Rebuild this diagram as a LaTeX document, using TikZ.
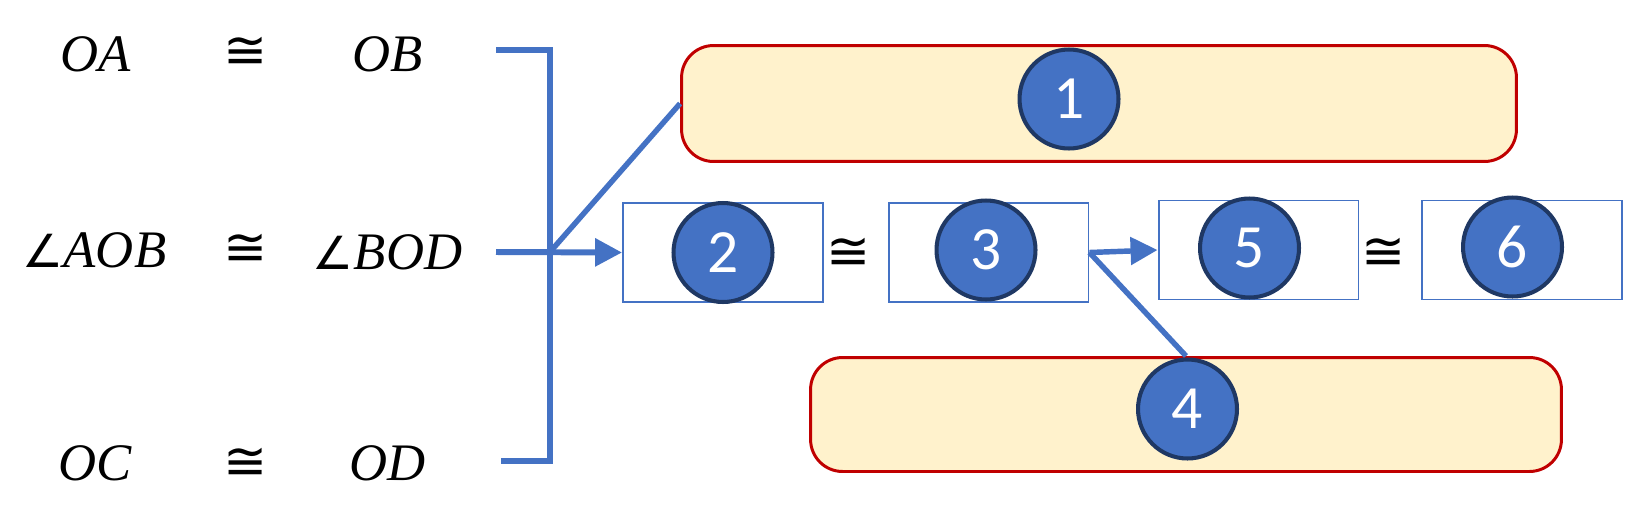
\documentclass[tikz,border=0pt]{standalone}
\usepackage{fontspec}
\setmainfont{Liberation Serif}
\newfontfamily\numfont{Carlito}
\newfontfamily\symfont{DejaVu Sans}
\usetikzlibrary{arrows.meta}
\definecolor{lineblue}{HTML}{4472C4}
\definecolor{badgeedge}{HTML}{1F3864}
\definecolor{claimred}{HTML}{C00000}
\definecolor{claimfill}{HTML}{FFF2CC}

\begin{document}
\begin{tikzpicture}[
 x=0.02cm,y=-0.02cm,
 term/.style={anchor=base,inner sep=0pt,font=\fontsize{30}{35}\selectfont\itshape},
 rel/.style={anchor=base,inner sep=0pt,font=\symfont\fontsize{30}{35}\selectfont},
 part/.style={draw=lineblue,line width=1.1pt,minimum width=4cm,minimum height=1.98cm,inner sep=0pt},
 claim/.style={draw=claimred,fill=claimfill,line width=1.7pt,rounded corners=0.64cm,inner sep=0pt},
 badge/.style={circle,draw=badgeedge,fill=lineblue,line width=2.3pt,minimum size=1.98cm,inner sep=0pt,text=white,font=\numfont\fontsize{35}{42}\selectfont},
 link/.style={draw=lineblue,line width=3.4pt},
 thinlink/.style={draw=lineblue,line width=3.1pt},
 tip/.style={-{Triangle[length=0.54cm,width=0.54cm]}}
]
\useasboundingbox (0,0) rectangle (1625,514);
\node[term] (oa) at (95.5,71) {OA};
\node[rel] (eqtop) at (246,68) {≅};
\node[term] (ob) at (387.5,71) {OB};
\node[term] (aob) at (94.5,267) {{\symfont\upshape\fontsize{26}{30}\selectfont ∠}AOB};
\node[rel] (eqmid) at (246,265) {≅};
\node[term] (bod) at (387.5,269) {{\symfont\upshape\fontsize{26}{30}\selectfont ∠}BOD};
\node[term] (oc) at (95.5,480) {OC};
\node[rel] (eqbot) at (246,479) {≅};
\node[term] (od) at (387.5,480) {OD};
\node[claim,minimum width=16.7cm,minimum height=2.32cm] (b1) at (1099,103.5) {};
\node[part] (b2) at (723,252.5) {};
\node[part] (b3) at (988.5,252.5) {};
\node[part] (b5) at (1258.5,250) {};
\node[part] (b6) at (1522,250) {};
\node[claim,minimum width=15.02cm,minimum height=2.28cm] (b4) at (1186,414.5) {};
\node[rel] (eqleft) at (849,269) {≅};
\node[rel] (eqright) at (1384,269) {≅};
\coordinate (bracetop) at (496,50);
\coordinate (bracebot) at (501,461);
\coordinate (bracein) at (496,252);
\coordinate (fork) at (550,252);
\draw[link] (bracetop) -| (fork) |- (bracebot);
\draw[link,tip] (bracein) -- (b2.west);
\draw[thinlink] (fork) -- (b1.west);
\draw[thinlink,tip] (b3.east) -- (b5.west);
\draw[thinlink] (b3.east) -- (b4.north);
\node[badge] (n1) at (1069,99) {1};
\node[badge] (n2) at (723,252.5) {2};
\node[badge] (n3) at (986,250) {3};
\node[badge] (n4) at (1187.5,409) {4};
\node[badge] (n5) at (1249.5,248) {5};
\node[badge] (n6) at (1512.5,247) {6};
\end{tikzpicture}
\end{document}
